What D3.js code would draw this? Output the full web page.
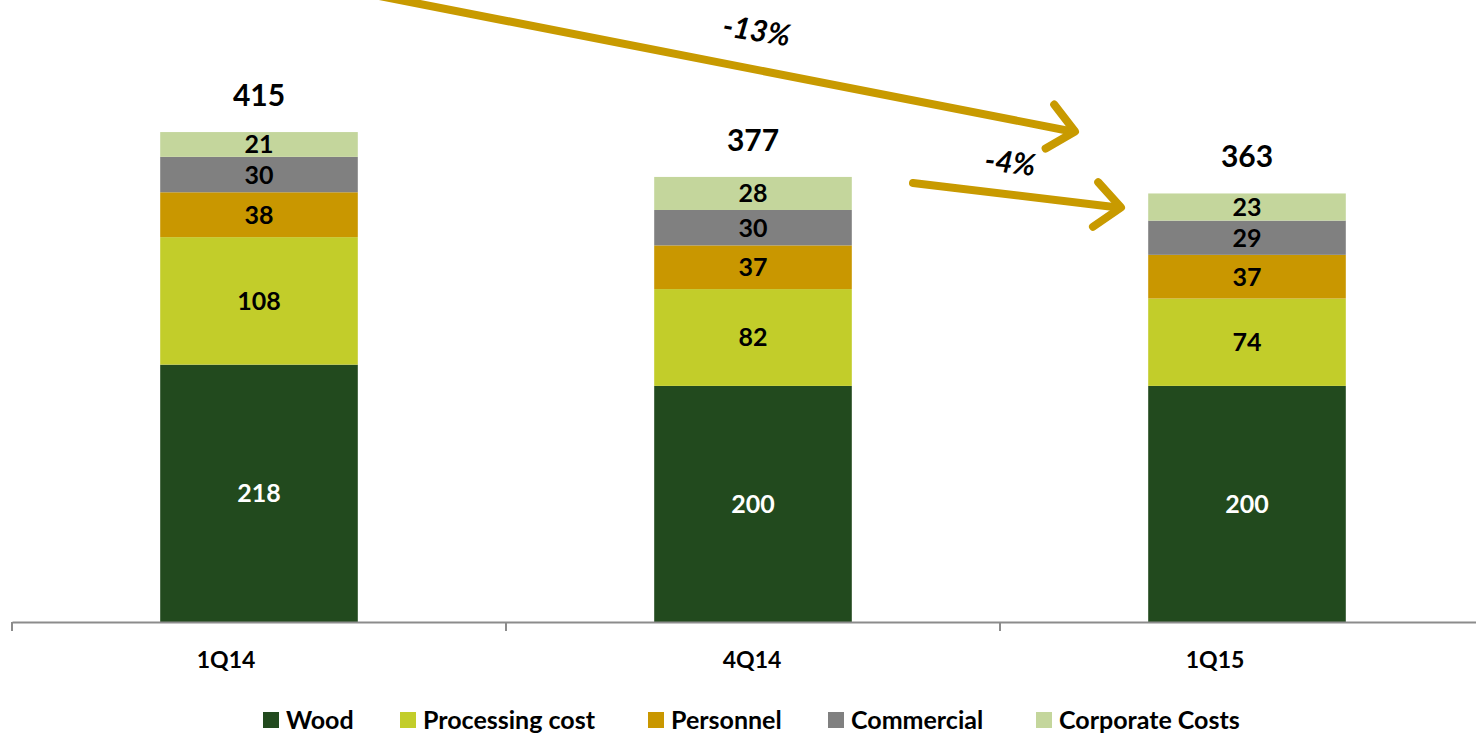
<!DOCTYPE html>
<html>
<head>
<meta charset="utf-8">
<script src="https://cdn.jsdelivr.net/npm/d3@7/dist/d3.min.js"></script>
<style>
  html, body { margin: 0; padding: 0; background: #fff; }
  svg { display: block; font-family: Lato, "Open Sans", sans-serif; font-weight: 700; }
</style>
</head>
<body>
<svg id="chart" width="1476" height="734"></svg>
<script>
// Quarterly cost breakdown
const quarters = ["1Q14", "4Q14", "1Q15"];
const seriesNames = ["Wood", "Processing cost", "Personnel", "Commercial", "Corporate Costs"];
const wood       = [218, 200, 200];
const processing = [108, 82, 74];
const personnel  = [38, 37, 37];
const commercial = [30, 30, 29];
const corporate  = [21, 28, 23];
const totals     = [415, 377, 363];
const changeLabels = ["-13%", "-4%"];

const colors = ["#224a1e", "#c2cd2a", "#c99700", "#808080", "#c4d69c"];
const textColors = ["#ffffff", "#000000", "#000000", "#000000", "#000000"];

const rows = quarters.map((q, i) => ({
  quarter: q,
  "Wood": wood[i],
  "Processing cost": processing[i],
  "Personnel": personnel[i],
  "Commercial": commercial[i],
  "Corporate Costs": corporate[i],
  total: totals[i]
}));

const svg = d3.select("#chart");
const baseY = 622, topY = 112;

const x = d3.scaleBand().domain(quarters).range([12, 1494]).paddingInner(0).paddingOuter(0);
const barW = x.bandwidth() * 0.4;
const y = d3.scaleLinear().domain([0, 432]).range([baseY, topY]);
const color = d3.scaleOrdinal().domain(seriesNames).range(colors);
const txtColor = d3.scaleOrdinal().domain(seriesNames).range(textColors);

const stacked = d3.stack().keys(seriesNames)(rows);

// Stacked segments
const layers = svg.append("g").selectAll("g")
  .data(stacked).join("g")
  .attr("fill", d => color(d.key));

layers.selectAll("rect")
  .data(d => d.map(p => ({ p, key: d.key })))
  .join("rect")
  .attr("x", d => x(d.p.data.quarter) + x.bandwidth() / 2 - barW / 2)
  .attr("width", barW)
  .attr("y", d => y(d.p[1]))
  .attr("height", d => y(d.p[0]) - y(d.p[1]));

// Segment value labels
layers.selectAll("text")
  .data(d => d.map(p => ({ p, key: d.key })))
  .join("text")
  .attr("x", d => x(d.p.data.quarter) + x.bandwidth() / 2)
  .attr("y", d => (y(d.p[0]) + y(d.p[1])) / 2)
  .attr("dy", "0.36em")
  .attr("text-anchor", "middle")
  .attr("font-size", 25)
  .attr("fill", d => txtColor(d.key))
  .text(d => d.p[1] - d.p[0]);

// Totals above bars
svg.append("g").selectAll("text")
  .data(rows).join("text")
  .attr("x", d => x(d.quarter) + x.bandwidth() / 2)
  .attr("y", d => y(d.total) - 26)
  .attr("text-anchor", "middle")
  .attr("font-size", 30)
  .attr("fill", "#000")
  .text(d => d.total);

// Category axis
const labelShift = [-33, -1, -32];
const axis = svg.append("g")
  .attr("transform", `translate(0,${baseY})`)
  .call(d3.axisBottom(x).tickSize(0).tickPadding(30));
axis.select(".domain").attr("stroke", "#8c8c8c").attr("stroke-width", 2);
axis.selectAll(".tick text")
  .attr("font-size", 23).attr("font-family", "Lato, sans-serif")
  .attr("font-weight", 700).attr("fill", "#000")
  .attr("dx", (d, i) => labelShift[i]);
// Band boundary ticks
svg.append("g").selectAll("line")
  .data(quarters.map(q => x(q)).concat([x.range()[1]]))
  .join("line")
  .attr("x1", d => d).attr("x2", d => d)
  .attr("y1", baseY).attr("y2", baseY + 9)
  .attr("stroke", "#8c8c8c").attr("stroke-width", 2);

// Change arrows between quarters
const arrowColor = "#c89a00";
function arrow(x1, y1, x2, y2) {
  const g = svg.append("g").attr("stroke", arrowColor).attr("fill", "none")
    .attr("stroke-width", 8).attr("stroke-linecap", "round").attr("stroke-linejoin", "round");
  g.append("line").attr("x1", x1).attr("y1", y1).attr("x2", x2 - 3).attr("y2", y2);
  const ang = Math.atan2(y2 - y1, x2 - x1);
  const len = 34, spread = 0.72;
  const p1 = [x2 - len * Math.cos(ang - spread), y2 - len * Math.sin(ang - spread)];
  const p2 = [x2 - len * Math.cos(ang + spread), y2 - len * Math.sin(ang + spread)];
  g.append("path").attr("d", `M${p1[0]},${p1[1]} L${x2},${y2} L${p2[0]},${p2[1]}`);
  return ang * 180 / Math.PI;
}
const c0 = x(quarters[0]) + x.bandwidth() / 2;
const c1 = x(quarters[1]) + x.bandwidth() / 2;
const c2 = x(quarters[2]) + x.bandwidth() / 2;

const a1 = arrow(c0 + 110, -6, c2 - 172, y(totals[2]) - 62);
svg.append("text")
  .attr("transform", `translate(${c1 + 2},${41}) rotate(${a1 - 2})`)
  .attr("text-anchor", "middle").attr("font-size", 30).attr("font-style", "italic")
  .attr("fill", "#000").text(changeLabels[0]);

const a2 = arrow(c1 + 160, y(totals[1]) + 6, c2 - 126, y(totals[2]) + 14);
svg.append("text")
  .attr("transform", `translate(${c1 + 256},${y(totals[1]) - 4}) rotate(${a2})`)
  .attr("text-anchor", "middle").attr("font-size", 30).attr("font-style", "italic")
  .attr("fill", "#000").text(changeLabels[1]);

// Legend
const legendX = [263, 400, 648, 828, 1036];
const legend = svg.append("g").selectAll("g")
  .data(seriesNames).join("g")
  .attr("transform", (d, i) => `translate(${legendX[i]},${712})`);
legend.append("rect").attr("width", 16).attr("height", 16).attr("fill", d => color(d));
legend.append("text").attr("x", 23).attr("y", 8).attr("dy", "0.36em")
  .attr("font-size", 25).attr("fill", "#000").text(d => d);
</script>
</body>
</html>
